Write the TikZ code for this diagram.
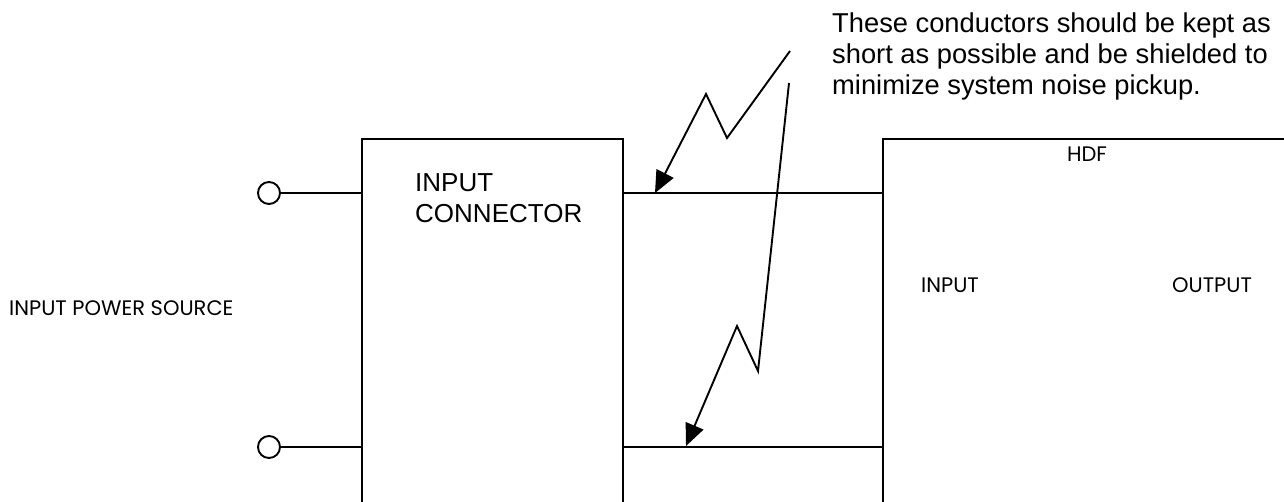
\documentclass[tikz,border=0pt]{standalone}
\usepackage{fontspec}
\setmainfont{Liberation Sans}
\newfontfamily\gothic{Poppins}
\usetikzlibrary{arrows.meta}
\tikzset{
  wire/.style={line width=1.9pt, line cap=rect},
  terminal/.style={circle, draw, line width=1.9pt, minimum size=22pt, inner sep=0pt},
  zigarrow/.style={line width=1.9pt, -{Triangle[length=22pt,width=19pt]}},
  gothlabel/.style={font=\gothic\fontsize{21}{25}\selectfont, inner sep=0pt},
  arlabel/.style={inner sep=0pt, anchor=north west, align=left}
}
\begin{document}
\begin{tikzpicture}[x=1pt,y=-1pt]
\useasboundingbox (0,0) rectangle (1284,501);
% input connector box (open at the bottom)
\coordinate (icbl) at (362,501);
\coordinate (icbr) at (623,501);
\draw[wire] (icbl) |- (623,139) -- (icbr);
% HDF box (open at right and bottom)
\coordinate (hdfbl) at (883,501);
\coordinate (hdftr) at (1284,139);
\draw[wire] (hdfbl) |- (hdftr);
% terminals
\node[terminal] (t1) at (269,193) {};
\node[terminal] (t2) at (269,447) {};
\coordinate (icin1) at (362,193);
\coordinate (icin2) at (362,447);
\draw[wire] (t1) -- (icin1);
\draw[wire] (t2) -- (icin2);
% conductors
\coordinate (icout1) at (623,193);
\coordinate (icout2) at (623,447);
\coordinate (hdfin1) at (883,193);
\coordinate (hdfin2) at (883,447);
\draw[wire] (icout1) -- (hdfin1);
\draw[wire] (icout2) -- (hdfin2);
% zigzag arrows
\coordinate (z1a) at (790,51);
\coordinate (z1b) at (727,138);
\coordinate (z1c) at (706,94);
\coordinate (z1d) at (655,193);
\draw[zigarrow] (z1a) -- (z1b) -- (z1c) -- (z1d);
\coordinate (z2a) at (789,83);
\coordinate (z2b) at (758,371);
\coordinate (z2c) at (737,326);
\coordinate (z2d) at (686,446);
\draw[zigarrow] (z2a) -- (z2b) -- (z2c) -- (z2d);
% labels
\node[gothlabel, anchor=west] (src) at (9,308) {INPUT POWER SOURCE};
\node[arlabel, font=\fontsize{26}{31}\selectfont] (icl) at (415,173) {INPUT\\CONNECTOR};
\node[arlabel, font=\fontsize{27.3}{31}\selectfont] (note) at (832,13) {These conductors should be kept as\\short as possible and be shielded to\\minimize system noise pickup.};
\node[gothlabel] (hdf) at (1087,154) {HDF};
\node[gothlabel] (hin) at (950,285) {INPUT};
\node[gothlabel] (hout) at (1212,285) {OUTPUT};
\end{tikzpicture}
\end{document}
